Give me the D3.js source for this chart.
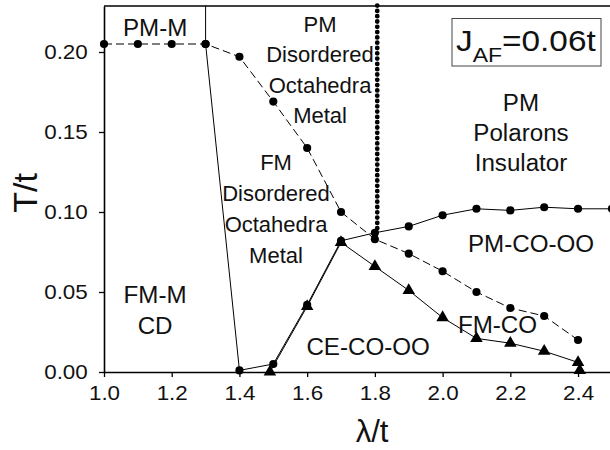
<!DOCTYPE html>
<html>
<head>
<meta charset="utf-8">
<script src="https://cdn.jsdelivr.net/npm/d3@7"></script>
<style>
  html, body { margin: 0; padding: 0; background: #fff; }
  svg { display: block; font-family: "Liberation Sans", Arial, sans-serif; }
</style>
</head>
<body>
<svg id="chart" width="610" height="450"></svg>
<script>
// Phase diagram, J_AF = 0.06t
const xTicks = [1.0, 1.2, 1.4, 1.6, 1.8, 2.0, 2.2, 2.4];
const yTicks = [0.00, 0.05, 0.10, 0.15, 0.20];

// Dashed boundary with circles (PM transition)
const dashedLambda = [1.0, 1.1, 1.2, 1.3, 1.4, 1.5, 1.6, 1.7, 1.8, 1.9, 2.0, 2.1, 2.2, 2.3, 2.4];
const dashedT      = [0.205, 0.205, 0.205, 0.205, 0.197, 0.169, 0.140, 0.100, 0.083, 0.074, 0.063, 0.050, 0.040, 0.035, 0.020];

// Solid boundary with circles
const solidLambda = [1.3, 1.4, 1.5, 1.6, 1.7, 1.8, 1.9, 2.0, 2.1, 2.2, 2.3, 2.4, 2.5];
const solidT      = [0.205, 0.001, 0.005, 0.042, 0.082, 0.087, 0.091, 0.098, 0.102, 0.101, 0.103, 0.102, 0.102];

// Solid boundary with triangles
const triLambda = [1.49, 1.6, 1.7, 1.8, 1.9, 2.0, 2.1, 2.2, 2.3, 2.4, 2.405];
const triT      = [0.000, 0.041, 0.081, 0.066, 0.051, 0.034, 0.021, 0.018, 0.013, 0.006, 0.001];

// PM-M / PM-DOM separator and the dotted crossover line
const separatorLambda = [1.3, 1.3];
const separatorT      = [0.205, 0.229];
const dottedLambda = [1.807, 1.807];
const dottedT      = [0.229, 0.089];

// Region labels: [lines, λ, T of first baseline, font size, horizontal scale, line step]
const regionLabels = [
  [["PM-M"], 1.151, 0.2100, 23, 1.05, 0],
  [["PM", "Disordered", "Octahedra", "Metal"], 1.638, 0.2125, 22, 1.0, 30.4],
  [["FM", "Disordered", "Octahedra", "Metal"], 1.508, 0.1260, 22, 1.0, 31],
  [["PM", "Polarons", "Insulator"], 2.2315, 0.1633, 23, 1.05, 30.2],
  [["FM-M", "CD"], 1.151, 0.0429, 23, 1.05, 30.7],
  [["PM-CO-OO"], 2.261, 0.0748, 23, 1.05, 0],
  [["FM-CO"], 2.162, 0.0242, 23, 1.05, 0],
  [["CE-CO-OO"], 1.780, 0.0106, 23, 1.05, 0]
];

const svg = d3.select("#chart");
const plotLeft = 104, plotTop = 6, plotBottom = 372;
const textFont = "'Liberation Sans', Arial, sans-serif";

const x = d3.scaleLinear().domain([1.0, 2.5]).range([plotLeft, 611.9]);
const y = d3.scaleLinear().domain([0, 0.22875]).range([plotBottom, plotTop]);

// Axes
const xAxis = svg.append("g")
  .attr("transform", `translate(0,${plotBottom})`)
  .call(d3.axisBottom(x).tickValues(xTicks).tickFormat(d3.format(".1f")).tickSize(5).tickSizeOuter(0));
const yAxis = svg.append("g")
  .attr("transform", `translate(${plotLeft},0)`)
  .call(d3.axisLeft(y).tickValues(yTicks).tickFormat(d3.format(".2f")).tickSize(5).tickSizeOuter(0));

[xAxis, yAxis].forEach(g => {
  g.select(".domain").attr("stroke", "#000").attr("stroke-width", 1.6);
  g.selectAll(".tick line").attr("stroke", "#000").attr("stroke-width", 1.3);
  g.selectAll(".tick text").attr("fill", "#111").style("font-size", "20px")
    .style("font-family", textFont)
    .attr("transform", "scale(1.12,1)");
});
xAxis.selectAll(".tick text").attr("y", 14);
yAxis.selectAll(".tick text").attr("x", -14.5).attr("dy", "0.34em");

// Top frame line
svg.append("line")
  .attr("x1", plotLeft).attr("x2", 610).attr("y1", plotTop).attr("y2", plotTop)
  .attr("stroke", "#000").attr("stroke-width", 1.6);

// Axis titles
svg.append("text")
  .attr("transform", `translate(37,193) rotate(-90)`)
  .attr("text-anchor", "middle")
  .style("font-size", "34px").attr("fill", "#111")
  .text("T/t");
svg.append("text")
  .attr("x", 372).attr("y", 442)
  .attr("text-anchor", "middle")
  .style("font-size", "31px").attr("fill", "#111")
  .text("λ/t");

const zip = (a, b) => a.map((v, i) => [v, b[i]]);
const line = d3.line().x(d => x(d[0])).y(d => y(d[1]));

// Separator at λ = 1.3
svg.append("path").datum(zip(separatorLambda, separatorT))
  .attr("d", line).attr("fill", "none").attr("stroke", "#000").attr("stroke-width", 1);

// Dotted crossover line
svg.append("path").datum(zip(dottedLambda, dottedT))
  .attr("d", line).attr("fill", "none").attr("stroke", "#000")
  .attr("stroke-width", 4.8).attr("stroke-linecap", "round")
  .attr("stroke-dasharray", "0 5.3");

// Boundary lines
svg.append("path").datum(zip(dashedLambda, dashedT))
  .attr("d", line).attr("fill", "none").attr("stroke", "#000")
  .attr("stroke-width", 1).attr("stroke-dasharray", "8 4");
svg.append("path").datum(zip(solidLambda, solidT))
  .attr("d", line).attr("fill", "none").attr("stroke", "#000").attr("stroke-width", 1);
svg.append("path").datum(zip(triLambda, triT))
  .attr("d", line).attr("fill", "none").attr("stroke", "#000").attr("stroke-width", 1);

// Markers
const circleSym = d3.symbol().type(d3.symbolCircle).size(52);
const triSym = d3.symbol().type(d3.symbolTriangle).size(68);
svg.append("g").selectAll("path")
  .data(zip(dashedLambda, dashedT).concat(zip(solidLambda, solidT)))
  .join("path")
  .attr("d", circleSym)
  .attr("transform", d => `translate(${x(d[0])},${y(d[1])})`)
  .attr("fill", "#000");
svg.append("g").selectAll("path")
  .data(zip(triLambda, triT))
  .join("path")
  .attr("d", triSym)
  .attr("transform", d => `translate(${x(d[0])},${y(d[1])})`)
  .attr("fill", "#000");

// Region labels
regionLabels.forEach(([lines, lx, ly, fs, sx, step]) => {
  const g = svg.append("g")
    .attr("transform", `translate(${x(lx)},${y(ly)}) scale(${sx},1)`);
  const t = g.append("text")
    .attr("text-anchor", "middle")
    .style("font-size", fs + "px").attr("fill", "#111");
  lines.forEach((s, i) => {
    t.append("tspan").attr("x", 0).attr("dy", i === 0 ? 0 : step).text(s);
  });
});

// Parameter box
const box = svg.append("g");
box.append("rect")
  .attr("x", 452).attr("y", 18.5).attr("width", 149).attr("height", 47.5)
  .attr("fill", "#fff").attr("stroke", "#444").attr("stroke-width", 1);
const jt = box.append("g").attr("transform", "translate(456,51) scale(1.15,1)")
  .append("text")
  .style("font-size", "29px").attr("fill", "#111");
jt.append("tspan").text("J");
jt.append("tspan").attr("dy", 11).style("font-size", "20px").text("AF");
jt.append("tspan").attr("dy", -11).text("=0.06t");
</script>
</body>
</html>
